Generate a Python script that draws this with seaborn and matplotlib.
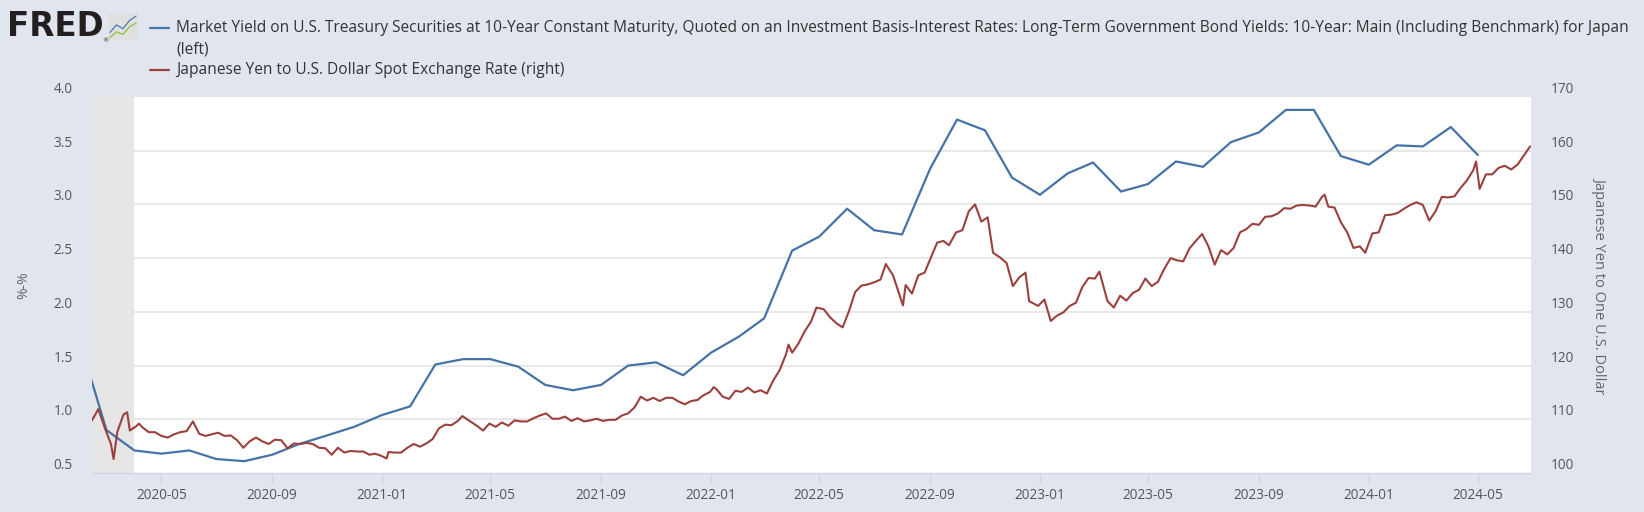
import pandas as pd
import matplotlib
matplotlib.use("Agg")
import matplotlib.pyplot as plt
import matplotlib.dates as mdates
from matplotlib.lines import Line2D
import seaborn as sns

# 10-year yield series (left axis), monthly, first of month
spread_months = pd.date_range("2020-02-01", "2024-05-01", freq="MS")
spread_values = [1.71, 0.90, 0.71, 0.68, 0.71, 0.63, 0.61, 0.67, 0.77, 0.85, 0.93,
                 1.04, 1.12, 1.51, 1.56, 1.56, 1.49, 1.32, 1.27, 1.32, 1.50, 1.53, 1.41,
                 1.62, 1.77, 1.94, 2.57, 2.70, 2.96, 2.76, 2.72, 3.33, 3.79, 3.69, 3.25,
                 3.09, 3.29, 3.39, 3.12, 3.19, 3.40, 3.35, 3.58, 3.67, 3.88, 3.88, 3.45,
                 3.37, 3.55, 3.54, 3.72, 3.46]

# yen per dollar (right axis), read roughly weekly
fx_dates_2020 = ["2020-02-14", "2020-02-21", "2020-02-28", "2020-03-06", "2020-03-09", "2020-03-13",
                 "2020-03-20", "2020-03-24", "2020-03-27", "2020-04-03", "2020-04-06", "2020-04-10",
                 "2020-04-17", "2020-04-24", "2020-05-01", "2020-05-08", "2020-05-15", "2020-05-22",
                 "2020-05-29", "2020-06-05", "2020-06-12", "2020-06-19", "2020-06-26", "2020-07-03",
                 "2020-07-10", "2020-07-17", "2020-07-24", "2020-07-31", "2020-08-07", "2020-08-14",
                 "2020-08-21", "2020-08-28", "2020-09-04", "2020-09-11", "2020-09-18", "2020-09-25",
                 "2020-10-02", "2020-10-09", "2020-10-16", "2020-10-23", "2020-10-30", "2020-11-06",
                 "2020-11-13", "2020-11-20", "2020-11-27", "2020-12-04", "2020-12-11", "2020-12-18",
                 "2020-12-24", "2020-12-31"]
fx_2020 = [109.8, 111.9, 108.5, 105.4, 102.6, 107.6, 110.9, 111.3, 107.9, 108.7, 109.2, 108.5,
           107.6, 107.6, 106.9, 106.6, 107.2, 107.6, 107.8, 109.6, 107.3, 106.9, 107.2, 107.5,
           106.9, 107.0, 106.1, 104.7, 105.9, 106.6, 105.9, 105.4, 106.2, 106.1, 104.6, 105.5,
           105.4, 105.6, 105.4, 104.7, 104.6, 103.4, 104.7, 103.8, 104.1, 104.0, 104.0, 103.4,
           103.6, 103.2]

fx_dates_2021 = ["2021-01-06", "2021-01-08", "2021-01-15", "2021-01-22", "2021-01-29", "2021-02-05",
                 "2021-02-12", "2021-02-19", "2021-02-26", "2021-03-05", "2021-03-12", "2021-03-19",
                 "2021-03-26", "2021-03-31", "2021-04-09", "2021-04-16", "2021-04-23", "2021-04-30",
                 "2021-05-07", "2021-05-14", "2021-05-21", "2021-05-28", "2021-06-04", "2021-06-11",
                 "2021-06-18", "2021-06-25", "2021-07-02", "2021-07-09", "2021-07-16", "2021-07-23",
                 "2021-07-30", "2021-08-06", "2021-08-13", "2021-08-20", "2021-08-27", "2021-09-03",
                 "2021-09-10", "2021-09-17", "2021-09-24", "2021-10-01", "2021-10-08", "2021-10-15",
                 "2021-10-22", "2021-10-29", "2021-11-05", "2021-11-12", "2021-11-19", "2021-11-26",
                 "2021-12-03", "2021-12-10", "2021-12-17", "2021-12-23", "2021-12-31"]
fx_2021 = [102.7, 103.9, 103.8, 103.8, 104.7, 105.4, 104.9, 105.5, 106.3, 108.3, 109.0, 108.9,
           109.7, 110.6, 109.6, 108.8, 107.9, 109.2, 108.6, 109.4, 108.8, 109.8, 109.6, 109.6,
           110.2, 110.7, 111.1, 110.1, 110.1, 110.5, 109.7, 110.2, 109.6, 109.8, 110.1, 109.7,
           109.9, 109.9, 110.7, 111.1, 112.2, 114.2, 113.5, 114.0, 113.4, 114.0, 114.0, 113.3,
           112.8, 113.4, 113.6, 114.4, 115.1]

fx_dates_2022 = ["2022-01-04", "2022-01-07", "2022-01-14", "2022-01-21", "2022-01-28", "2022-02-04",
                 "2022-02-11", "2022-02-18", "2022-02-25", "2022-03-04", "2022-03-11", "2022-03-18",
                 "2022-03-25", "2022-03-28", "2022-04-01", "2022-04-08", "2022-04-15", "2022-04-22",
                 "2022-04-28", "2022-05-06", "2022-05-13", "2022-05-20", "2022-05-27", "2022-06-03",
                 "2022-06-10", "2022-06-17", "2022-06-24", "2022-07-01", "2022-07-08", "2022-07-14",
                 "2022-07-22", "2022-07-29", "2022-08-02", "2022-08-05", "2022-08-12", "2022-08-19",
                 "2022-08-26", "2022-09-02", "2022-09-09", "2022-09-16", "2022-09-22", "2022-09-30",
                 "2022-10-07", "2022-10-14", "2022-10-21", "2022-10-28", "2022-11-04", "2022-11-10",
                 "2022-11-18", "2022-11-25", "2022-12-02", "2022-12-09", "2022-12-16", "2022-12-20",
                 "2022-12-30"]
fx_2022 = [116.0, 115.6, 114.2, 113.8, 115.3, 115.1, 115.9, 115.0, 115.4, 114.8, 117.2, 119.1,
           122.0, 123.9, 122.4, 124.1, 126.4, 128.2, 130.8, 130.5, 129.0, 127.9, 127.1, 130.1,
           133.7, 134.9, 135.1, 135.5, 136.0, 138.9, 136.8, 133.2, 131.2, 135.0, 133.4, 136.8,
           137.3, 140.1, 142.9, 143.2, 142.4, 144.8, 145.2, 148.7, 150.0, 146.8, 147.6, 141.0,
           140.1, 139.1, 134.8, 136.4, 137.3, 132.0, 131.1]

fx_dates_2023 = ["2023-01-06", "2023-01-13", "2023-01-20", "2023-01-27", "2023-02-03", "2023-02-10",
                 "2023-02-17", "2023-02-24", "2023-03-03", "2023-03-08", "2023-03-17", "2023-03-24",
                 "2023-03-31", "2023-04-07", "2023-04-14", "2023-04-21", "2023-04-28", "2023-05-05",
                 "2023-05-12", "2023-05-19", "2023-05-26", "2023-06-02", "2023-06-09", "2023-06-16",
                 "2023-06-23", "2023-06-30", "2023-07-07", "2023-07-14", "2023-07-21", "2023-07-28",
                 "2023-08-04", "2023-08-11", "2023-08-18", "2023-08-25", "2023-09-01", "2023-09-08",
                 "2023-09-15", "2023-09-22", "2023-09-29", "2023-10-06", "2023-10-13", "2023-10-20",
                 "2023-10-27", "2023-11-03", "2023-11-10", "2023-11-13", "2023-11-17", "2023-11-24",
                 "2023-12-01", "2023-12-08", "2023-12-15", "2023-12-22", "2023-12-28"]
fx_2023 = [132.3, 128.3, 129.3, 129.9, 131.1, 131.7, 134.6, 136.3, 136.2, 137.5, 132.0, 130.8,
           133.0, 132.1, 133.5, 134.1, 136.2, 134.8, 135.6, 138.0, 140.0, 139.6, 139.4, 141.8,
           143.2, 144.5, 142.2, 138.8, 141.5, 140.7, 141.9, 144.8, 145.4, 146.4, 146.2, 147.7,
           147.8, 148.3, 149.3, 149.2, 149.8, 149.9, 149.8, 149.6, 151.4, 151.8, 149.6, 149.4,
           146.7, 144.8, 141.9, 142.2, 141.0]

fx_dates_2024 = ["2024-01-05", "2024-01-12", "2024-01-19", "2024-01-26", "2024-02-02", "2024-02-09",
                 "2024-02-16", "2024-02-23", "2024-03-01", "2024-03-08", "2024-03-15", "2024-03-22",
                 "2024-03-29", "2024-04-05", "2024-04-12", "2024-04-19", "2024-04-26", "2024-04-29",
                 "2024-05-03", "2024-05-10", "2024-05-17", "2024-05-24", "2024-05-31", "2024-06-07",
                 "2024-06-14", "2024-06-21", "2024-06-28"]
fx_2024 = [144.6, 144.8, 148.0, 148.1, 148.4, 149.2, 149.9, 150.4, 149.9, 147.0, 148.7, 151.4,
           151.3, 151.5, 153.1, 154.5, 156.4, 158.0, 152.9, 155.6, 155.6, 156.8, 157.2, 156.5,
           157.4, 159.1, 160.8]

fx_dates = pd.to_datetime(fx_dates_2020 + fx_dates_2021 + fx_dates_2022 + fx_dates_2023 + fx_dates_2024)
fx_values = fx_2020 + fx_2021 + fx_2022 + fx_2023 + fx_2024

left_ticks = [0.5, 1.0, 1.5, 2.0, 2.5, 3.0, 3.5, 4.0]
right_ticks = [100, 110, 120, 130, 140, 150, 160, 170]
x_ticks = pd.date_range("2020-05-01", "2024-05-01", freq="4MS")

BG = "#e1e6ee"
BLUE = "#4572a7"
RED = "#9a413d"
TXT = "#555555"

sns.set_theme(style="white")
plt.rcParams["font.family"] = ["Open Sans", "DejaVu Sans"]

W, H = 1644, 512
def px(x): return x / W
def py(y): return 1 - y / H

fig = plt.figure(figsize=(W / 100, H / 100), dpi=100, facecolor=BG)
ax = fig.add_axes([px(92), py(473), px(1531) - px(92), py(97) - py(473)])
ax.set_facecolor("white")

# recession shading
ax.axvspan(pd.Timestamp("2020-02-01"), pd.Timestamp("2020-04-01"), color="#e6e6e6", lw=0, zorder=1)
for v in left_ticks[1:-1]:
    ax.axhline(v, color="#e6e6e6", lw=1.3, zorder=0.5)

sns.lineplot(x=spread_months, y=spread_values, ax=ax, color=BLUE, linewidth=1.6,
             estimator=None, errorbar=None, zorder=3)

ax2 = ax.twinx()
sns.lineplot(x=fx_dates, y=fx_values, ax=ax2, color=RED, linewidth=1.5,
             estimator=None, errorbar=None)

ax.set_xlim(pd.Timestamp("2020-02-14"), pd.Timestamp("2024-06-29"))
ax.set_ylim(0.5, 4.0)
ax2.set_ylim(100, 170)
ax.set_yticks(left_ticks)
ax.set_yticklabels([f"{v:.1f}" for v in left_ticks])
ax2.set_yticks(right_ticks)
ax2.set_yticklabels([str(v) for v in right_ticks])
ax.set_xticks(x_ticks)
ax.xaxis.set_major_formatter(mdates.DateFormatter("%Y-%m"))

for a in (ax, ax2):
    for s in a.spines.values():
        s.set_visible(False)
    a.set_xlabel("")
    a.set_ylabel("")
ax.spines["bottom"].set_visible(True)
ax.spines["bottom"].set_color("#ccd6eb")
ax.spines["bottom"].set_linewidth(1)

ax.tick_params(axis="x", bottom=True, length=8, width=1, color="#ccd6eb",
               labelcolor=TXT, labelsize=9.8, pad=2.5)
ax.tick_params(axis="y", left=False, length=0, labelcolor=TXT, labelsize=9.8, pad=14)
ax2.tick_params(axis="y", right=False, length=0, labelcolor=TXT, labelsize=9.8, pad=14)
plt.setp(ax.get_yticklabels(), va="bottom")
plt.setp(ax2.get_yticklabels(), va="bottom")

# axis titles
fig.text(px(24), py(285), "%-%", rotation=90, ha="center", va="center", color="#666666", fontsize=10)
fig.text(px(1600), py(285), "Japanese Yen to One U.S. Dollar", rotation=270,
         ha="center", va="center", color="#666666", fontsize=10.5)

# legend
LEG = 11.2
fig.add_artist(Line2D([px(150), px(169)], [py(28), py(28)], color=BLUE, lw=1.6))
fig.text(px(176), py(28), "Market Yield on U.S. Treasury Securities at 10-Year Constant Maturity, "
         "Quoted on an Investment Basis-Interest Rates: Long-Term Government Bond Yields: "
         "10-Year: Main (Including Benchmark) for Japan", va="center", ha="left",
         color="#333333", fontsize=LEG)
fig.text(px(176), py(49), "(left)", va="center", ha="left", color="#333333", fontsize=LEG)
fig.add_artist(Line2D([px(150), px(169)], [py(70), py(70)], color=RED, lw=1.6))
fig.text(px(176), py(70), "Japanese Yen to U.S. Dollar Spot Exchange Rate (right)",
         va="center", ha="left", color="#333333", fontsize=LEG)

# FRED logo
fig.text(px(7), py(27), "FRED", fontsize=23.5, fontweight="bold", family="DejaVu Sans",
         va="center", ha="left", color="#231f20")
fig.text(px(102), py(41), "®", fontsize=4.5, va="center", ha="left", color="#231f20",
         family="DejaVu Sans")
iax = fig.add_axes([px(108), py(40), px(30), 27 / H])
iax.set_facecolor("#e0e0e0")
iax.plot([0, 1, 2, 3, 4], [1.2, 2.4, 1.8, 3.1, 3.8], color="#4b7bb5", lw=0.9)
iax.plot([0, 1, 2, 3, 4], [0.4, 1.3, 0.9, 2.1, 2.7], color="#8cbf3f", lw=0.9)
iax.set_xlim(-0.3, 4.3)
iax.set_ylim(0, 4.3)
iax.set_xticks([])
iax.set_yticks([])
for s in iax.spines.values():
    s.set_visible(False)

fig.savefig("out.png", dpi=100, facecolor=BG)
